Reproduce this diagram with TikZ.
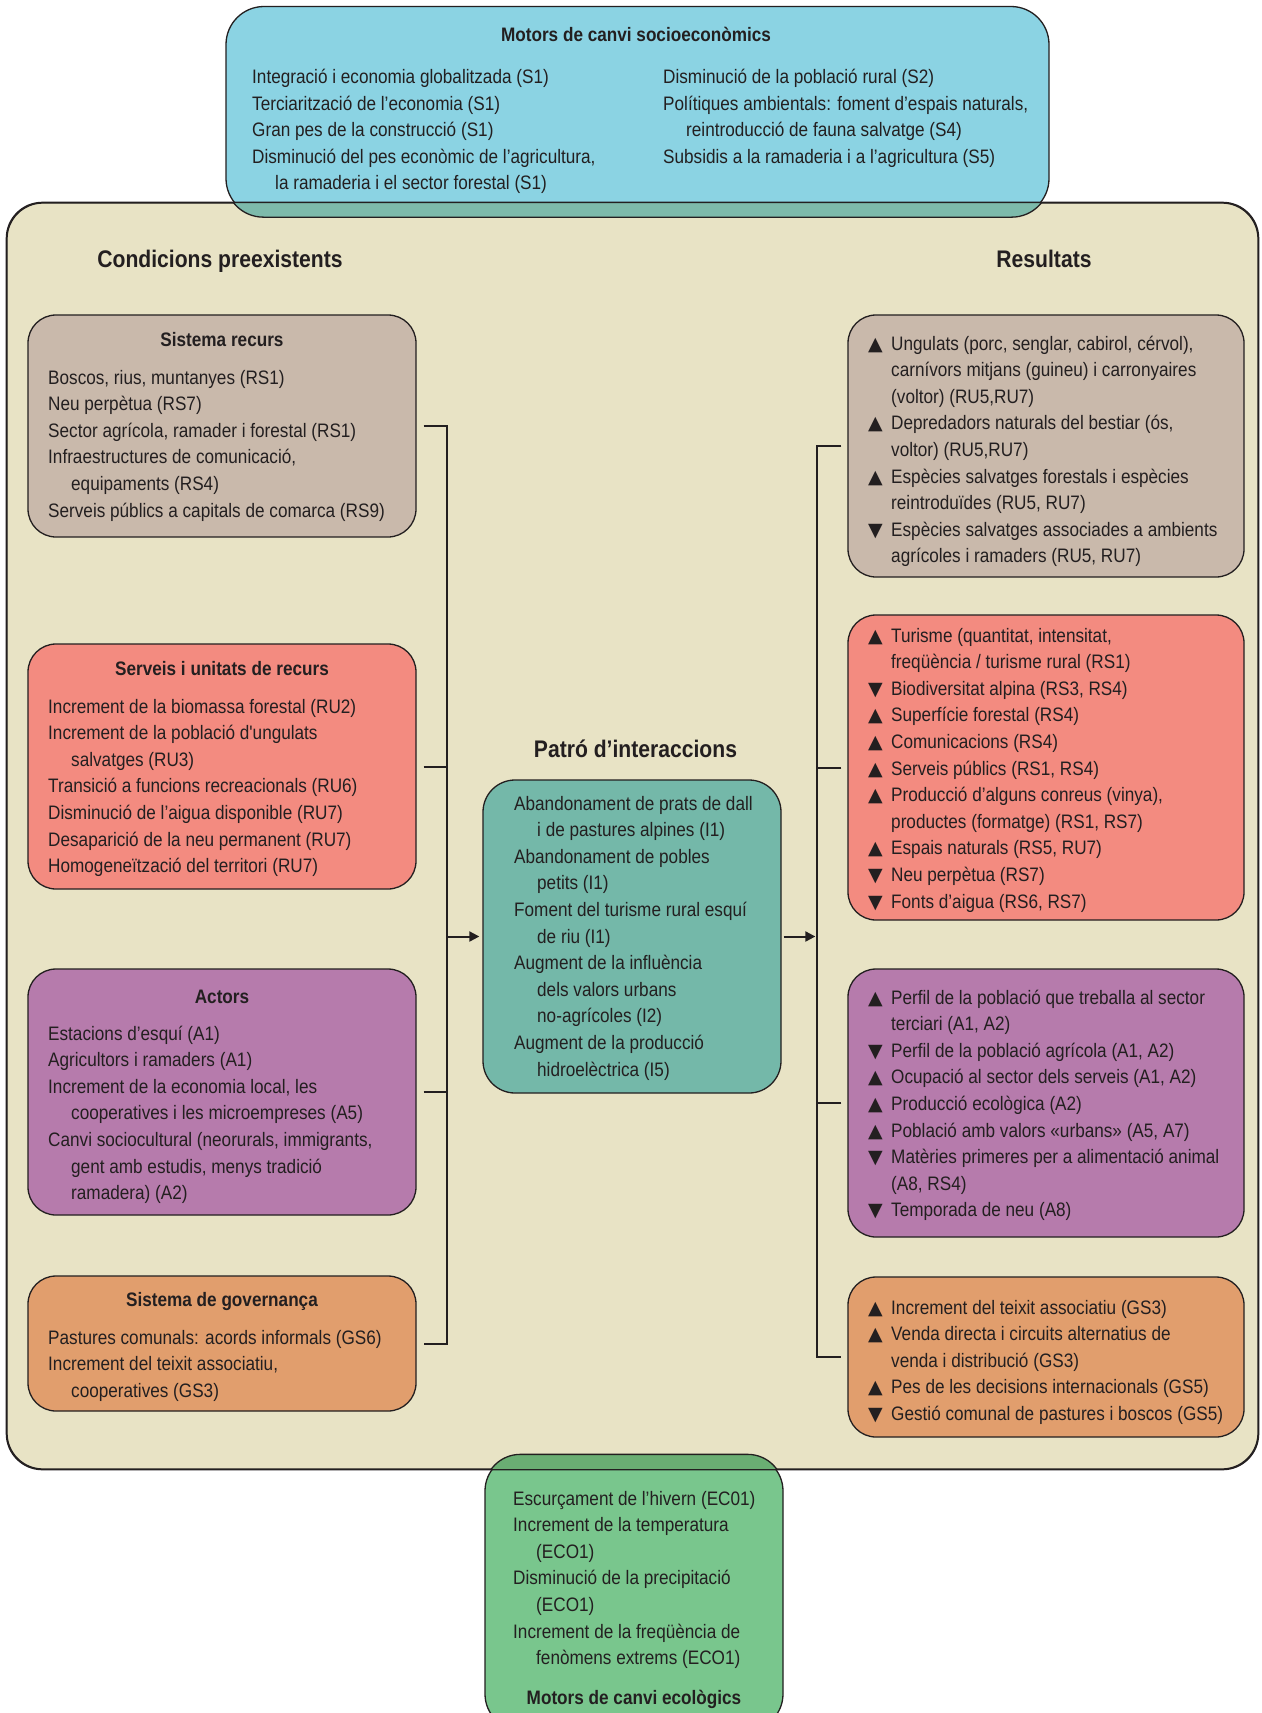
\documentclass[tikz,border=0pt]{standalone}
\usepackage{fontspec}
\setmainfont{Liberation Sans}[FakeStretch=0.88]
\newfontfamily\plainf{Liberation Sans}[FakeStretch=0.88]
\newfontfamily\symf{DejaVu Sans}
\usetikzlibrary{arrows.meta,calc}
\definecolor{cBeige}{HTML}{E8E3C5}
\definecolor{cCyan}{HTML}{8BD3E3}
\definecolor{cOvTop}{HTML}{7DBAAB}
\definecolor{cGreen}{HTML}{79C68D}
\definecolor{cOvGreen}{HTML}{6AAE73}
\definecolor{cBrown}{HTML}{C9B9AB}
\definecolor{cSalmon}{HTML}{F38B80}
\definecolor{cPurple}{HTML}{B67BAC}
\definecolor{cOrange}{HTML}{E19E6D}
\definecolor{cTeal}{HTML}{74B8A9}
\definecolor{cLine}{HTML}{231F20}
\definecolor{cText}{HTML}{231F20}
\newcommand\lns[1]{\vtop{\baselineskip=26.6pt\lineskiplimit=-20pt\lineskip=0pt\halign{##\hfil\cr#1\crcr}}}
\newcommand\ind{\hspace*{23pt}}
\newcommand\tup{\makebox[23pt][l]{\symf\fontsize{19pt}{19pt}\selectfont ▲}}
\newcommand\tdn{\makebox[23pt][l]{\symf\fontsize{19pt}{19pt}\selectfont ▼}}
\newcommand\sq{{\plainf '}}
\tikzset{
  bx/.style={draw=cLine, line width=1.3pt, rounded corners=28pt, inner sep=0pt, shape=rectangle},
  txt/.style={inner sep=0pt, text=cText, font=\fontsize{19.5pt}{26.6pt}\selectfont},
  body/.style={txt, anchor=base west},
  head/.style={txt, anchor=base, font=\fontsize{19.5pt}{26.6pt}\selectfont\bfseries},
  bighead/.style={txt, anchor=base, font=\fontsize{24pt}{28pt}\selectfont\bfseries},
  conn/.style={draw=cLine, line width=2pt},
  arr/.style={draw=cLine, line width=2pt, -{Triangle[length=10pt,width=10pt]}}
}
\begin{document}
\begin{tikzpicture}[x=1pt,y=-1pt]
\useasboundingbox (0,0) rectangle (1261,1713);
\clip (0,0) rectangle (1261,1713);
\fill[white] (0,0) rectangle (1261,1713);

% frames
\node[bx, rounded corners=36pt, fill=cBeige, minimum width=1251pt, minimum height=1266pt] (bg) at (632.5,836) {};
\node[bx, rounded corners=38pt, fill=cCyan, minimum width=823pt, minimum height=210pt] (tb) at (637.5,111.5) {};
\node[bx, rounded corners=36pt, fill=cGreen, minimum width=298pt, minimum height=275pt] (eb) at (634,1592.5) {};
\begin{scope}
  \clip (bg.north west) rectangle (bg.south east);
  \draw[bx, rounded corners=38pt, fill=cOvTop] (tb.north west) rectangle (tb.south east);
  \draw[bx, rounded corners=36pt, fill=cOvGreen] (eb.north west) rectangle (eb.south east);
\end{scope}
\draw[bx, rounded corners=36pt] (bg.north west) rectangle (bg.south east);

% inner boxes
\node[bx, fill=cBrown, minimum width=388pt, minimum height=222pt] (sr) at (222,426) {};
\node[bx, fill=cSalmon, minimum width=388pt, minimum height=245pt] (su) at (222,766.5) {};
\node[bx, fill=cPurple, minimum width=388pt, minimum height=246pt] (ac) at (222,1092) {};
\node[bx, fill=cOrange, minimum width=388pt, minimum height=135pt] (gv) at (222,1343.5) {};
\node[bx, fill=cBrown, minimum width=396pt, minimum height=262pt] (r1) at (1046,446) {};
\node[bx, fill=cSalmon, minimum width=396pt, minimum height=305pt] (r2) at (1046,767.5) {};
\node[bx, fill=cPurple, minimum width=396pt, minimum height=268pt] (r3) at (1046,1103) {};
\node[bx, fill=cOrange, minimum width=396pt, minimum height=160pt] (r4) at (1046,1357) {};
\node[bx, rounded corners=32pt, fill=cTeal, minimum width=298pt, minimum height=313pt] (pi) at (632,936.5) {};

% top box text
\node[head] (tbh) at (636,41) {Motors de canvi socioeconòmics};
\node[body] (tbl) at (252,83.5) {\lns{Integració i economia globalitzada (S1)\cr
Terciarització de l’economia (S1)\cr
Gran pes de la construcció (S1)\cr
Disminució del pes econòmic de l’agricultura,\cr
\ind la ramaderia i el sector forestal (S1)}};
\node[body] (tbr) at (663,83.5) {\lns{Disminució de la població rural (S2)\cr
Polítiques ambientals: foment d’espais naturals,\cr
\ind reintroducció de fauna salvatge (S4)\cr
Subsidis a la ramaderia i a l’agricultura (S5)}};

% section titles
\node[bighead] (tl) at (220,267.5) {Condicions preexistents};
\node[bighead] (tr) at (1044,267.5) {Resultats};
\node[bighead] (tc) at (635.5,757) {Patró d’interaccions};

% left texts
\node[head] (srh) at (222,346) {Sistema recurs};
\node[body] (srt) at (48,384) {\lns{Boscos, rius, muntanyes (RS1)\cr
Neu perpètua (RS7)\cr
Sector agrícola, ramader i forestal (RS1)\cr
Infraestructures de comunicació,\cr
\ind equipaments (RS4)\cr
Serveis públics a capitals de comarca (RS9)}};

\node[head] (suh) at (222,675) {Serveis i unitats de recurs};
\node[body] (sut) at (48,713) {\lns{Increment de la biomassa forestal (RU2)\cr
Increment de la població d\sq ungulats\cr
\ind salvatges (RU3)\cr
Transició a funcions recreacionals (RU6)\cr
Disminució de l’aigua disponible (RU7)\cr
Desaparició de la neu permanent (RU7)\cr
Homogeneïtzació del territori (RU7)}};

\node[head] (ach) at (222,1003) {Actors};
\node[body] (act) at (48,1040) {\lns{Estacions d’esquí (A1)\cr
Agricultors i ramaders (A1)\cr
Increment de la economia local, les\cr
\ind cooperatives i les microempreses (A5)\cr
Canvi sociocultural (neorurals, immigrants,\cr
\ind gent amb estudis, menys tradició\cr
\ind ramadera) (A2)}};

\node[head] (gvh) at (222,1306) {Sistema de governança};
\node[body] (gvt) at (48,1344) {\lns{Pastures comunals: acords informals (GS6)\cr
Increment del teixit associatiu,\cr
\ind cooperatives (GS3)}};

% centre text
\node[body] (pit) at (514,810) {\lns{Abandonament de prats de dall\cr
\ind i de pastures alpines (I1)\cr
Abandonament de pobles\cr
\ind petits (I1)\cr
Foment del turisme rural esquí\cr
\ind de riu (I1)\cr
Augment de la influència\cr
\ind dels valors urbans\cr
\ind no-agrícoles (I2)\cr
Augment de la producció\cr
\ind hidroelèctrica (I5)}};

% right texts
\node[body] (r1t) at (868,350) {\lns{\tup Ungulats (porc, senglar, cabirol, cérvol),\cr
\ind carnívors mitjans (guineu) i carronyaires\cr
\ind (voltor) (RU5,RU7)\cr
\tup Depredadors naturals del bestiar (ós,\cr
\ind voltor) (RU5,RU7)\cr
\tup Espècies salvatges forestals i espècies\cr
\ind reintroduïdes (RU5, RU7)\cr
\tdn Espècies salvatges associades a ambients\cr
\ind agrícoles i ramaders (RU5, RU7)}};

\node[body] (r2t) at (868,642) {\lns{\tup Turisme (quantitat, intensitat,\cr
\ind freqüència / turisme rural (RS1)\cr
\tdn Biodiversitat alpina (RS3, RS4)\cr
\tup Superfície forestal (RS4)\cr
\tup Comunicacions (RS4)\cr
\tup Serveis públics (RS1, RS4)\cr
\tup Producció d’alguns conreus (vinya),\cr
\ind productes (formatge) (RS1, RS7)\cr
\tup Espais naturals (RS5, RU7)\cr
\tdn Neu perpètua (RS7)\cr
\tdn Fonts d’aigua (RS6, RS7)}};

\node[body] (r3t) at (868,1004) {\lns{\tup Perfil de la població que treballa al sector\cr
\ind terciari (A1, A2)\cr
\tdn Perfil de la població agrícola (A1, A2)\cr
\tup Ocupació al sector dels serveis (A1, A2)\cr
\tup Producció ecològica (A2)\cr
\tup Població amb valors «urbans» (A5, A7)\cr
\tdn Matèries primeres per a alimentació animal\cr
\ind (A8, RS4)\cr
\tdn Temporada de neu (A8)}};

\node[body] (r4t) at (868,1314) {\lns{\tup Increment del teixit associatiu (GS3)\cr
\tup Venda directa i circuits alternatius de\cr
\ind venda i distribució (GS3)\cr
\tup Pes de les decisions internacionals (GS5)\cr
\tdn Gestió comunal de pastures i boscos (GS5)}};

% bottom green text
\node[body] (ebt) at (513,1505) {\lns{Escurçament de l’hivern (EC01)\cr
Increment de la temperatura\cr
\ind (ECO1)\cr
Disminució de la precipitació\cr
\ind (ECO1)\cr
Increment de la freqüència de\cr
\ind fenòmens extrems (ECO1)}};
\node[head] (ebh) at (634,1704) {Motors de canvi ecològics};

% connectors left
\coordinate (lv) at ([xshift=30pt]sr.east);
\draw[conn] ([xshift=7pt]sr.east) -- (lv) |- ([xshift=7pt]gv.east);
\draw[conn] ([xshift=7pt]su.east) -- (lv |- su.east);
\draw[conn] ([xshift=7pt]ac.east) -- (lv |- ac.east);
\draw[arr] (lv |- pi.west) -- ([xshift=-3pt]pi.west);

% connectors right
\coordinate (rv) at ([xshift=-30pt]r1.west);
\draw[conn] ([xshift=-6pt]r1.west) -- (rv) |- ([xshift=-6pt]r4.west);
\draw[conn] ([xshift=-6pt]r2.west) -- (rv |- r2.west);
\draw[conn] ([xshift=-6pt]r3.west) -- (rv |- r3.west);
\draw[arr, shorten >=2pt] ([xshift=2pt]pi.east) -- (rv |- pi.east);
\end{tikzpicture}
\end{document}
